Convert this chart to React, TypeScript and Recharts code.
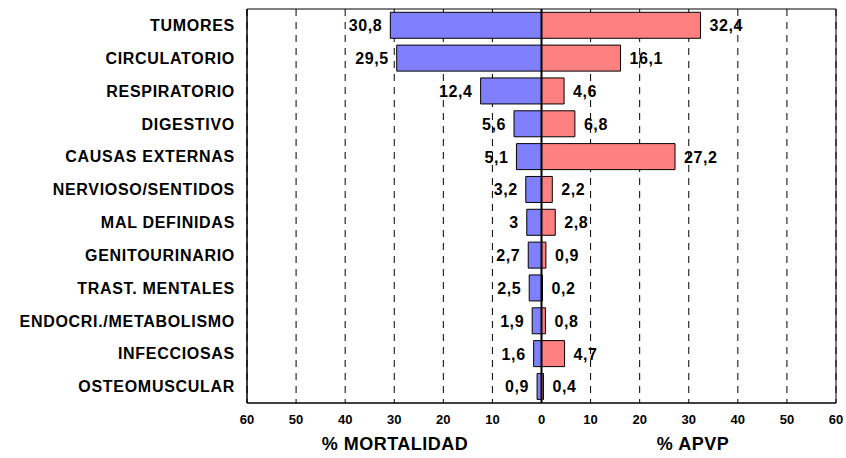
import React from "react";
import {
  BarChart,
  Bar,
  XAxis,
  YAxis,
  CartesianGrid,
  ReferenceLine,
  ReferenceArea,
  LabelList,
} from "recharts";

const causas = [
  "TUMORES",
  "CIRCULATORIO",
  "RESPIRATORIO",
  "DIGESTIVO",
  "CAUSAS EXTERNAS",
  "NERVIOSO/SENTIDOS",
  "MAL DEFINIDAS",
  "GENITOURINARIO",
  "TRAST. MENTALES",
  "ENDOCRI./METABOLISMO",
  "INFECCIOSAS",
  "OSTEOMUSCULAR",
];
const mortalidad = [30.8, 29.5, 12.4, 5.6, 5.1, 3.2, 3, 2.7, 2.5, 1.9, 1.6, 0.9];
const apvp = [32.4, 16.1, 4.6, 6.8, 27.2, 2.2, 2.8, 0.9, 0.2, 0.8, 4.7, 0.4];
const ticks = [-60, -50, -40, -30, -20, -10, 0, 10, 20, 30, 40, 50, 60];

const data = causas.map((c, i) => ({
  causa: c,
  mort: -mortalidad[i],
  apvp: apvp[i],
}));

const FONT = "'Liberation Sans', Arial, sans-serif";
const fmt = (v: number) => String(Math.abs(v)).replace(".", ",");

// etiqueta a un lado u otro de la barra segun el signo
const ValueLabel = (props: any) => {
  const { x, y, width, height, value } = props;
  const left = Math.min(x, x + width);
  const right = Math.max(x, x + width);
  const neg = value < 0;
  return (
    <text
      x={neg ? left - 8 : right + 9}
      y={y + height / 2}
      dy={6}
      textAnchor={neg ? "end" : "start"}
      fontFamily={FONT}
      fontWeight="bold"
      fontSize={16}
      letterSpacing={0.6}
      fill="#000"
    >
      {fmt(value)}
    </text>
  );
};

export default function App() {
  return (
    <div style={{ position: "absolute", left: 0, top: 0, width: 846, height: 458, background: "#fff" }}>
      <BarChart
        width={846}
        height={458}
        data={data}
        layout="vertical"
        stackOffset="sign"
        barCategoryGap="10%"
        margin={{ top: 9, right: 10, left: 0, bottom: 25 }}
      >
        <CartesianGrid horizontal={false} stroke="#000" strokeDasharray="7 6" />
        <XAxis
          type="number"
          domain={[-60, 60]}
          ticks={ticks}
          tickFormatter={(v: number) => String(Math.abs(v))}
          tick={{ fontFamily: FONT, fontWeight: "bold", fontSize: 13, fill: "#000" }}
          tickLine={false}
          tickSize={10}
          tickMargin={2}
          axisLine={{ stroke: "#000" }}
          height={30}
        />
        <YAxis
          type="category"
          dataKey="causa"
          width={247}
          tickLine={false}
          axisLine={{ stroke: "#000" }}
          tickSize={10}
          interval={0}
          tick={{ fontFamily: FONT, fontWeight: "bold", fontSize: 16, fill: "#000", letterSpacing: 0.7 }}
        />
        <ReferenceArea x1={-60} x2={60} fill="none" stroke="#000" strokeWidth={1} />
        <Bar dataKey="mort" stackId="a" fill="#8080FF" stroke="#000" strokeWidth={1} isAnimationActive={false}>
          <LabelList dataKey="mort" content={ValueLabel} />
        </Bar>
        <Bar dataKey="apvp" stackId="a" fill="#FF8080" stroke="#000" strokeWidth={1} isAnimationActive={false}>
          <LabelList dataKey="apvp" content={ValueLabel} />
        </Bar>
        <ReferenceLine x={0} stroke="#000" strokeWidth={2} />
      </BarChart>
      <div
        style={{
          position: "absolute",
          left: 295,
          width: 200,
          top: 434,
          textAlign: "center",
          fontFamily: FONT,
          fontWeight: "bold",
          fontSize: 18,
          letterSpacing: 0.5,
        }}
      >
        % MORTALIDAD
      </div>
      <div
        style={{
          position: "absolute",
          left: 593,
          width: 200,
          top: 434,
          textAlign: "center",
          fontFamily: FONT,
          fontWeight: "bold",
          fontSize: 18,
          letterSpacing: 0.5,
        }}
      >
        % APVP
      </div>
    </div>
  );
}
